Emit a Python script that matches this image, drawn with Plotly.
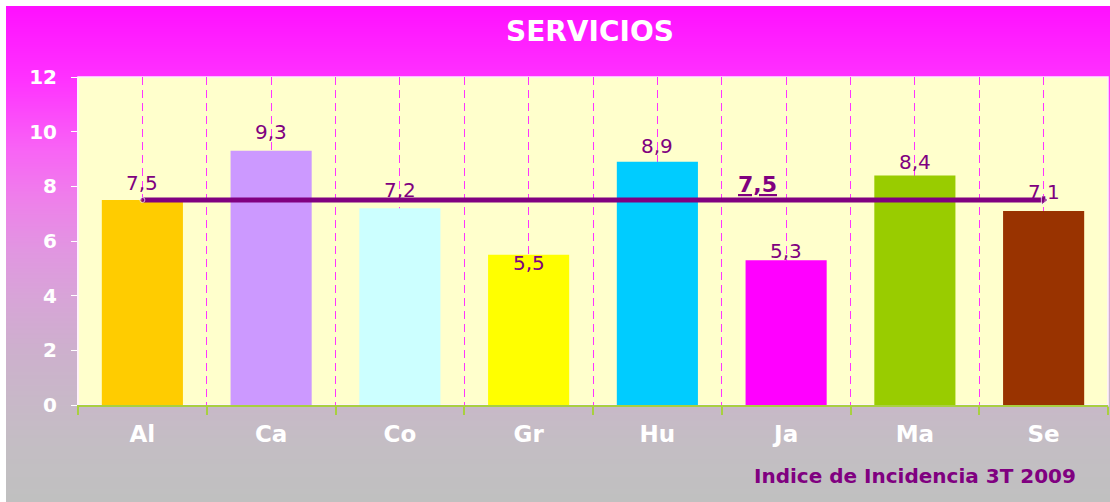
import base64
import struct
import zlib

import plotly.graph_objects as go

# ---------------- data ----------------
categories = ["Al", "Ca", "Co", "Gr", "Hu", "Ja", "Ma", "Se"]
values = [7.5, 9.3, 7.2, 5.5, 8.9, 5.3, 8.4, 7.1]
average = [7.5, 7.5, 7.5, 7.5, 7.5, 7.5, 7.5, 7.5]
average_label = 7.5
y_ticks = [0, 2, 4, 6, 8, 10, 12]
title_text = "SERVICIOS"
subtitle_text = "Indice de Incidencia 3T 2009"

# ---------------- style ----------------
bar_colors = ["#FFCC00", "#CC99FF", "#CCFFFF", "#FFFF00",
              "#00CCFF", "#FF00FF", "#99CC00", "#993300"]
label_shift = [17, 19, 18, -8, 16, 9, 13, 19]   # px offsets of value labels
PURPLE = "#800080"
GRID = "#FF33FF"
GREEN = "#A8D040"
FONT = "DejaVu Sans"

W, H = 1110, 502
L, R, T, B = 78, 2, 77, 97
plot_w = W - L - R
plot_h = H - T - B


def fmt(v):
    return f"{v:.1f}".replace(".", ",")


# background gradient image (magenta -> grey)
stops = [(6, (255, 16, 255)), (80, (255, 50, 255)), (150, (248, 100, 245)),
         (200, (238, 128, 234)), (250, (225, 150, 225)), (300, (215, 165, 215)),
         (350, (205, 176, 205)), (400, (200, 184, 200)), (450, (195, 190, 195)),
         (502, (192, 192, 192))]


def color_at(y):
    for (y0, c0), (y1, c1) in zip(stops[:-1], stops[1:]):
        if y0 <= y <= y1:
            t = (y - y0) / (y1 - y0)
            return tuple(int(round(a + (b - a) * t)) for a, b in zip(c0, c1))
    return stops[-1][1]


def make_png(rows, width=8):
    raw = b"".join(b"\x00" + bytes(rgb) * width for rgb in rows)

    def chunk(tag, data):
        c = struct.pack(">I", len(data)) + tag + data
        return c + struct.pack(">I", zlib.crc32(tag + data) & 0xFFFFFFFF)

    ihdr = struct.pack(">IIBBBBB", width, len(rows), 8, 2, 0, 0, 0)
    png = (b"\x89PNG\r\n\x1a\n" + chunk(b"IHDR", ihdr)
           + chunk(b"IDAT", zlib.compress(raw)) + chunk(b"IEND", b""))
    return "data:image/png;base64," + base64.b64encode(png).decode()


box_top, box_bottom, box_left, box_right = 6, 502, 6, 1110
rows = [color_at(y) for y in range(box_top, box_bottom)]
grad_src = make_png(rows)

positions = list(range(len(categories)))
boundaries = [p - 0.5 for p in positions] + [positions[-1] + 0.5]

fig = go.Figure()

fig.add_trace(go.Bar(
    x=positions, y=values, width=0.63,
    marker=dict(color=bar_colors, line=dict(width=0)),
    hoverinfo="skip",
))

n = len(average)
fig.add_trace(go.Scatter(
    x=positions, y=average, mode="lines+markers",
    line=dict(color=PURPLE, width=5),
    marker=dict(symbol=["circle"] * (n - 1) + ["triangle-right"],
                size=[5] + [0] * (n - 2) + [9], color=PURPLE),
    hoverinfo="skip",
))

annotations = []
for p, v, dy in zip(positions, values, label_shift):
    annotations.append(dict(
        x=p, y=v, xref="x", yref="y", text=fmt(v), showarrow=False,
        yanchor="middle", yshift=dy,
        font=dict(family=FONT, size=20, color=PURPLE),
    ))

annotations.append(dict(
    x=positions[categories.index("Ja")], y=average_label, xref="x", yref="y",
    text="<b><u>" + fmt(average_label) + "</u></b>", showarrow=False,
    yanchor="middle", yshift=16, xshift=-29,
    font=dict(family=FONT, size=22, color=PURPLE),
))

annotations.append(dict(
    x=(590 - L) / plot_w, y=(H - B - 31) / plot_h, xref="paper", yref="paper",
    text="<b>" + title_text + "</b>", showarrow=False,
    xanchor="center", yanchor="middle",
    font=dict(family=FONT, size=28, color="white"),
))

annotations.append(dict(
    x=(1078 - L) / plot_w, y=(H - B - 476) / plot_h, xref="paper", yref="paper",
    text="<b>" + subtitle_text + "</b>", showarrow=False,
    xanchor="right", yanchor="middle",
    font=dict(family=FONT, size=20, color=PURPLE),
))

fig.update_layout(
    width=W, height=H,
    margin=dict(l=L, r=R, t=T, b=B, pad=0),
    paper_bgcolor="white",
    plot_bgcolor="rgba(0,0,0,0)",
    showlegend=False,
    annotations=annotations,
    images=[dict(
        source=grad_src, xref="paper", yref="paper",
        x=(box_left - L) / plot_w, y=(H - B - box_top) / plot_h,
        sizex=(box_right - box_left) / plot_w,
        sizey=(box_bottom - box_top) / plot_h,
        xanchor="left", yanchor="top", sizing="stretch", layer="below",
    )],
    shapes=[dict(
        type="rect", xref="x domain", yref="y domain",
        x0=0, x1=1, y0=0, y1=1, layer="below",
        fillcolor="#FFFFCC", line=dict(color="#FFF0FF", width=1.5),
    )],
)

fig.update_xaxes(
    range=[boundaries[0], boundaries[-1]],
    tickmode="array", tickvals=positions,
    ticktext=["<b>" + c + "</b>" for c in categories],
    ticks="", showgrid=True, gridcolor=GRID, gridwidth=1, griddash="8px,5px",
    showline=True, linecolor=GREEN, linewidth=2, zeroline=False,
    tickfont=dict(family=FONT, size=23, color="white"),
    ticklabelstandoff=7,
    minor=dict(tickmode="array", tickvals=boundaries, ticks="outside",
               ticklen=8, tickcolor=GREEN, tickwidth=1.5,
               showgrid=True, gridcolor="rgb(255,51,255)", gridwidth=1,
               griddash="8px,5px"),
    fixedrange=True,
)

fig.update_yaxes(
    range=[y_ticks[0], y_ticks[-1]],
    tickmode="array", tickvals=y_ticks,
    ticktext=["<b>" + str(t) + "</b>" for t in y_ticks],
    ticks="outside", ticklen=6, tickcolor="white",
    showgrid=False, zeroline=False,
    showline=True, linecolor="#FFF0FF", linewidth=1,
    tickfont=dict(family=FONT, size=20, color="white"),
    ticklabelstandoff=10,
    fixedrange=True,
)

fig.write_html("out.html", config={"displayModeBar": False},
               post_script="document.body.style.margin='0';"
                           "document.body.style.padding='0';")
